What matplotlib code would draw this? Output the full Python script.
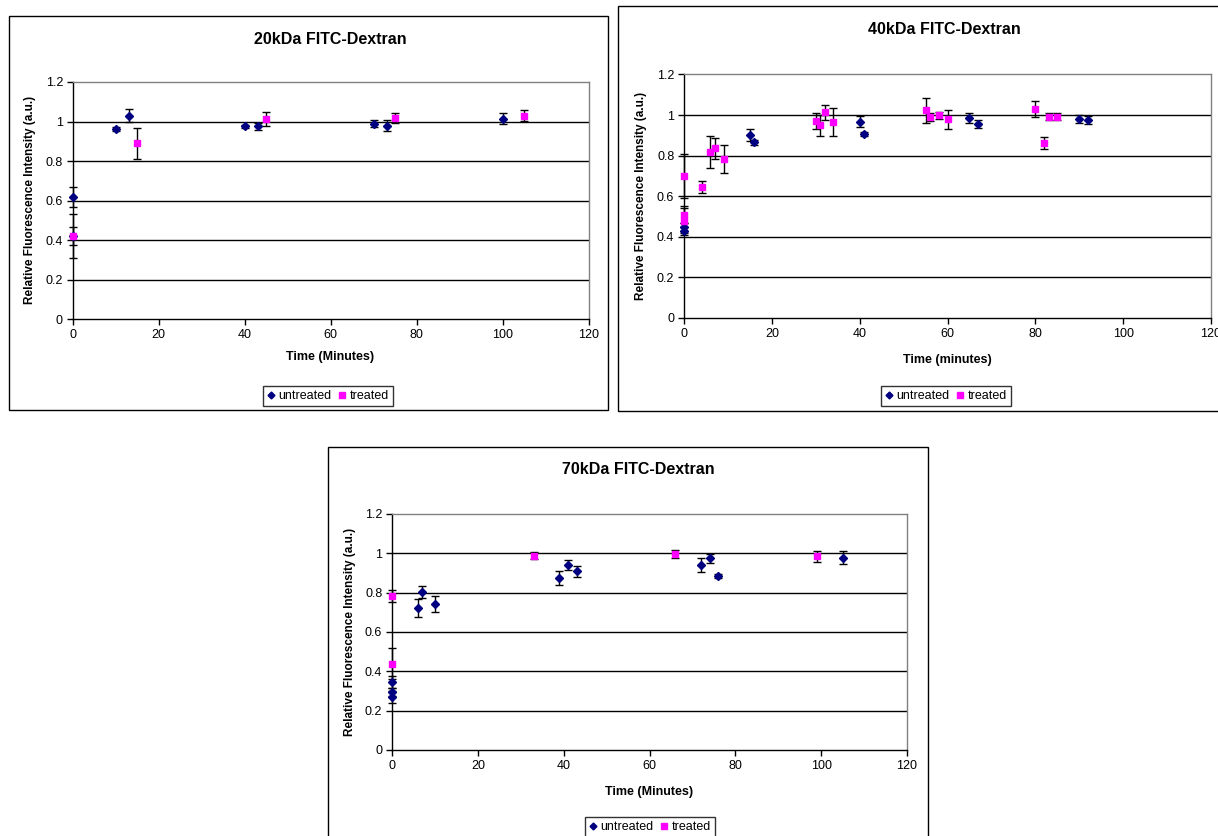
import matplotlib
matplotlib.use("Agg")
import matplotlib.pyplot as plt
from matplotlib.patches import Rectangle
from matplotlib.lines import Line2D

plt.rcParams['font.family'] = ['Liberation Sans', 'DejaVu Sans']

# ---- data: 20 kDa FITC-Dextran ----
u_t20 = [0, 0, 10, 13, 40, 43, 70, 73, 100]
u_y20 = [0.62, 0.42, 0.963, 1.03, 0.975, 0.975, 0.99, 0.98, 1.015]
u_e20 = [0.05, 0.045, 0.01, 0.033, 0.008, 0.018, 0.02, 0.028, 0.027]
t_t20 = [0, 15, 45, 75, 105]
t_y20 = [0.42, 0.89, 1.015, 1.018, 1.03]
t_e20 = [0.11, 0.077, 0.035, 0.027, 0.028]

# ---- data: 40 kDa FITC-Dextran ----
u_t40 = [0, 0, 15, 16, 40, 41, 65, 67, 90, 92]
u_y40 = [0.45, 0.43, 0.90, 0.865, 0.967, 0.908, 0.984, 0.954, 0.979, 0.974]
u_e40 = [0.02, 0.02, 0.03, 0.01, 0.028, 0.01, 0.025, 0.02, 0.02, 0.02]
t_t40 = [0, 0, 0, 4, 6, 7, 9, 30, 31, 32, 34, 55, 56, 58, 60, 80, 82, 83, 85]
t_y40 = [0.70, 0.51, 0.48, 0.644, 0.818, 0.837, 0.783, 0.969, 0.949, 1.013,
         0.967, 1.023, 0.989, 0.998, 0.979, 1.03, 0.864, 0.993, 0.993]
t_e40 = [0.11, 0.04, 0.06, 0.03, 0.077, 0.052, 0.07, 0.04, 0.05, 0.035,
         0.07, 0.06, 0.02, 0.015, 0.048, 0.04, 0.03, 0.015, 0.015]

# ---- data: 70 kDa FITC-Dextran ----
u_t70 = [0, 0, 0, 6, 7, 10, 39, 41, 43, 72, 74, 76, 105]
u_y70 = [0.344, 0.295, 0.269, 0.722, 0.803, 0.742, 0.873, 0.94, 0.91,
         0.939, 0.975, 0.885, 0.978]
u_e70 = [0.03, 0.02, 0.03, 0.045, 0.03, 0.04, 0.036, 0.027, 0.028,
         0.035, 0.023, 0.01, 0.032]
t_t70 = [0, 0, 33, 66, 99]
t_y70 = [0.783, 0.439, 0.988, 0.995, 0.985]
t_e70 = [0.03, 0.08, 0.018, 0.02, 0.027]

x_ticks = [0, 20, 40, 60, 80, 100, 120]
y_ticks = [0, 0.2, 0.4, 0.6, 0.8, 1.0, 1.2]
y_ticklabels = ["0", "0.2", "0.4", "0.6", "0.8", "1", "1.2"]

W, H = 1218, 836
NAVY = "#000080"
MAGENTA = "#FF00FF"

fig = plt.figure(figsize=(W / 100, H / 100), dpi=100)
fig.patch.set_facecolor("white")


def fx(x):
    return x / W


def fy(y):
    return 1 - y / H


def panel(box, plot, title, title_xy, ylab_xy, xlab, xlab_xy, leg_xy,
          ut, uy, ue, tt, ty, te):
    # outer chart border
    bx0, by0, bx1, by1 = box
    fig.patches.append(Rectangle((fx(bx0), fy(by1)), (bx1 - bx0) / W,
                                 (by1 - by0) / H, transform=fig.transFigure,
                                 fill=False, edgecolor="black", lw=1.0,
                                 zorder=0))
    px0, py0, px1, py1 = plot
    ax = fig.add_axes([fx(px0), fy(py1), (px1 - px0) / W, (py1 - py0) / H])
    ax.set_xlim(0, 120)
    ax.set_ylim(0, 1.2)
    ax.set_xticks(x_ticks)
    ax.set_yticks(y_ticks)
    ax.set_yticklabels(y_ticklabels)
    ax.tick_params(axis="both", direction="out", length=4, width=1,
                   labelsize=9, pad=3, color="black")
    for yv in y_ticks[1:-1]:
        ax.axhline(yv, color="black", lw=1.0, zorder=1)
    for s in ("left", "bottom"):
        ax.spines[s].set_color("black")
        ax.spines[s].set_linewidth(1.0)
    for s in ("top", "right"):
        ax.spines[s].set_color("#808080")
        ax.spines[s].set_linewidth(1.0)

    ax.errorbar(ut, uy, yerr=ue, fmt="none", ecolor="black", elinewidth=1,
                capsize=3.2, capthick=1, zorder=3, clip_on=False)
    ax.errorbar(tt, ty, yerr=te, fmt="none", ecolor="black", elinewidth=1,
                capsize=3.2, capthick=1, zorder=3, clip_on=False)
    ax.plot(ut, uy, ls="none", marker="D", ms=3.9, color=NAVY,
            markeredgecolor=NAVY, zorder=4, clip_on=False)
    ax.plot(tt, ty, ls="none", marker="s", ms=4.5, color=MAGENTA,
            markeredgecolor=MAGENTA, zorder=5, clip_on=False)

    fig.text(fx(title_xy[0]), fy(title_xy[1]), title, ha="center",
             va="center", fontsize=11.5, fontweight="bold")
    fig.text(fx(ylab_xy[0]), fy(ylab_xy[1]),
             "Relative Fluorescence Intensity (a.u.)", rotation=90,
             ha="center", va="center", fontsize=8.5, fontweight="bold")
    fig.text(fx(xlab_xy[0]), fy(xlab_xy[1]), xlab, ha="center", va="center",
             fontsize=9, fontweight="bold")

    handles = [
        Line2D([], [], ls="none", marker="D", ms=3.5, color=NAVY),
        Line2D([], [], ls="none", marker="s", ms=4.5, color=MAGENTA),
    ]
    leg = fig.legend(handles, ["untreated", "treated"], ncol=2,
                     loc="center", bbox_to_anchor=(fx(leg_xy[0]), fy(leg_xy[1])),
                     bbox_transform=fig.transFigure, fontsize=9,
                     frameon=True, fancybox=False, handlelength=0.6,
                     handletextpad=0.3, columnspacing=0.6, borderpad=0.3,
                     borderaxespad=0)
    leg.get_frame().set_edgecolor("black")
    leg.get_frame().set_linewidth(1.0)
    return ax


panel(box=(9, 16, 608, 410), plot=(72.7, 82, 588.7, 319.3),
      title="20kDa FITC-Dextran", title_xy=(330, 40), ylab_xy=(30, 200),
      xlab="Time (Minutes)", xlab_xy=(330, 357), leg_xy=(328, 396),
      ut=u_t20, uy=u_y20, ue=u_e20, tt=t_t20, ty=t_y20, te=t_e20)

panel(box=(618, 6, 1240, 411), plot=(684, 74.5, 1211, 318),
      title="40kDa FITC-Dextran", title_xy=(944, 30), ylab_xy=(641, 196),
      xlab="Time (minutes)", xlab_xy=(947, 360), leg_xy=(946, 396),
      ut=u_t40, uy=u_y40, ue=u_e40, tt=t_t40, ty=t_y40, te=t_e40)

panel(box=(328, 447, 928, 850), plot=(392, 514, 907, 750),
      title="70kDa FITC-Dextran", title_xy=(638, 470), ylab_xy=(350, 632),
      xlab="Time (Minutes)", xlab_xy=(649, 792), leg_xy=(650, 827),
      ut=u_t70, uy=u_y70, ue=u_e70, tt=t_t70, ty=t_y70, te=t_e70)

fig.savefig("out.png", dpi=100, facecolor="white")
